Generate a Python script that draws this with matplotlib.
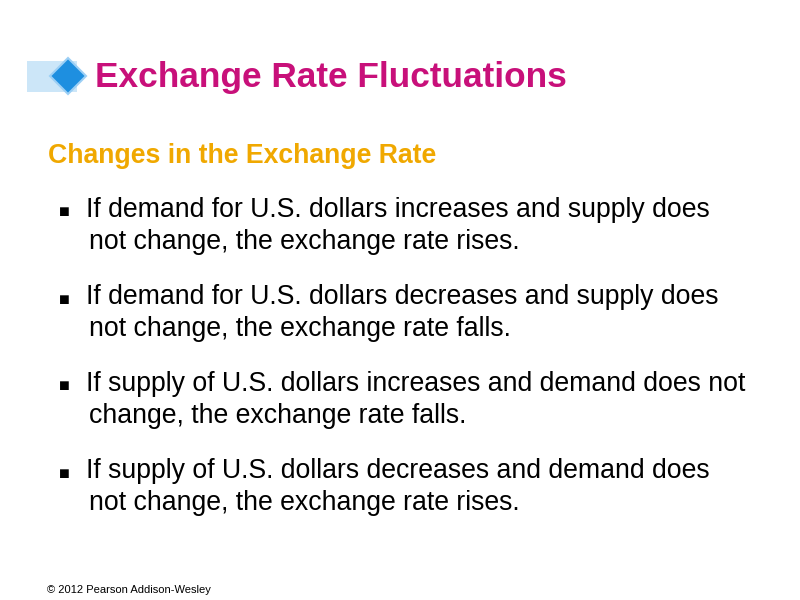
import matplotlib
matplotlib.use("Agg")
import matplotlib.pyplot as plt
from matplotlib.patches import Rectangle, Polygon

title = "Exchange Rate Fluctuations"
subtitle = "Changes in the Exchange Rate"
bullets = [
    ["If demand for U.S. dollars increases and supply does", "not change, the exchange rate rises."],
    ["If demand for U.S. dollars decreases and supply does", "not change, the exchange rate falls."],
    ["If supply of U.S. dollars increases and demand does not", "change, the exchange rate falls."],
    ["If supply of U.S. dollars decreases and demand does", "not change, the exchange rate rises."],
]
footer = "© 2012 Pearson Addison-Wesley"

plt.rcParams['font.family'] = ['Liberation Sans', 'DejaVu Sans']
fig = plt.figure(figsize=(8, 6), dpi=100)
ax = fig.add_axes([0, 0, 1, 1])
ax.set_xlim(0, 800)
ax.set_ylim(600, 0)
ax.axis('off')

ax.add_patch(Rectangle((27, 61), 50, 31, color='#CCE6F8', lw=0))
ax.add_patch(Polygon([(68, 58), (86, 76), (68, 94), (50, 76)], closed=True,
                     facecolor='#1E8FE0', edgecolor='#9CCFF5', lw=1.5))
ax.text(95, 77, title, fontsize=25.4, fontweight='bold', color='#C8107A', va='center')
ax.text(48, 156, subtitle, fontsize=19.2, fontweight='bold', color='#F0A800', va='center')

y0, dy, gap = 210, 32, 87
for i, (l1, l2) in enumerate(bullets):
    y = y0 + i * gap
    ax.text(59, y + 3, "■", fontsize=13, color='black', va='center')
    ax.text(86, y, l1, fontsize=19.2, color='black', va='center')
    ax.text(89, y + dy, l2, fontsize=19.2, color='black', va='center')

ax.text(47, 590, footer, fontsize=8, color='black', va='center')
fig.savefig("out.png", dpi=100)
